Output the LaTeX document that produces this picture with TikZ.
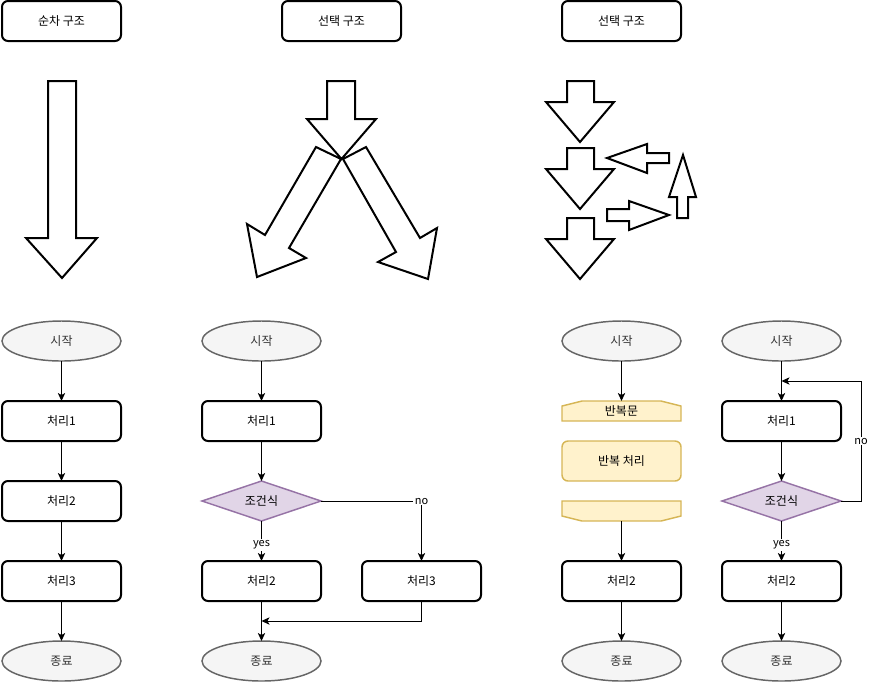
\documentclass[tikz,border=0pt]{standalone}
\usepackage{fontspec}
\setmainfont{Noto Sans CJK KR}
\usepackage{xcolor}
\usetikzlibrary{shapes.geometric,arrows.meta,positioning}

\definecolor{termfill}{HTML}{F5F5F5}
\definecolor{termline}{HTML}{666666}
\definecolor{condfill}{HTML}{E1D5E7}
\definecolor{condline}{HTML}{9673A6}
\definecolor{loopfill}{HTML}{FFF2CC}
\definecolor{loopline}{HTML}{D6B656}

\begin{document}
\begin{tikzpicture}[
    x=0.75pt, y=-0.75pt,
    node distance=30pt,
    font=\fontsize{9pt}{11pt}\selectfont,
    every node/.style={outer sep=0pt},
    box/.style={rectangle, draw, rounded corners=4.5pt, line width=1.5pt, minimum width=89.25pt, minimum height=30pt},
    term/.style={ellipse, draw=termline, fill=termfill, text=black!80, line width=1.1pt, minimum width=89.25pt, minimum height=30pt},
    cond/.style={diamond, draw=condline, fill=condfill, line width=1.1pt, aspect=3, inner sep=0pt, minimum width=89.25pt, minimum height=30pt},
    loopline/.style={draw=loopline, fill=loopfill, line width=1.1pt},
    loopcell/.style={rectangle, inner sep=0pt, minimum width=89.25pt, minimum height=15pt},
    blk/.style={draw, line width=1.5pt, fill=white},
    flow/.style={-{Stealth[length=6pt, width=5.5pt, inset=1.5pt]}, line width=0.75pt},
    lbl/.style={fill=white, inner sep=1pt, font=\fontsize{8.25pt}{10pt}\selectfont}
]
    \useasboundingbox (0,0) rectangle (870,683);

    % titles
    \node[box] (t1) at (61.5,21) {순차 구조};
    \node[box] (t2) at (341.5,21) {선택 구조};
    \node[box] (t3) at (621.5,21) {선택 구조};

    % block arrows
    \draw[blk] (48,81) -- (76,81) -- (76,238) -- (97,238) -- (62,278) -- (26,238) -- (48,238) -- cycle;

    \draw[blk] (316,147) -- (341,159) -- (289,248) -- (306,258) -- (257,277) -- (247,224) -- (265,235) -- cycle;
    \draw[blk] (343,159) -- (366,147) -- (420,238) -- (437,228) -- (428,279) -- (378,262) -- (396,252) -- cycle;
    \draw[blk] (327,81) -- (355,81) -- (355,119) -- (376,119) -- (341.5,159) -- (307,119) -- (327,119) -- cycle;

    \foreach \t in {81,148,218}
        \draw[blk] (567,\t) -- (594,\t) -- (594,\t+21) -- (614,\t+21) -- (580,\t+61) -- (546,\t+21) -- (567,\t+21) -- cycle;
    \draw[blk] (669,153) -- (669,163) -- (647,163) -- (647,173) -- (607,158) -- (647,144) -- (647,153) -- cycle;
    \draw[blk] (607,209) -- (629,209) -- (629,201) -- (669,215) -- (629,230) -- (629,221) -- (607,221) -- cycle;
    \draw[blk] (677,218) -- (688,218) -- (688,197) -- (696,197) -- (683,155) -- (669,197) -- (677,197) -- cycle;

    % sequence
    \node[term] (s1) at (61.5,341) {시작};
    \node[box, below=of s1] (p11) {처리1};
    \node[box, below=of p11] (p21) {처리2};
    \node[box, below=of p21] (p31) {처리3};
    \node[term, below=of p31] (e1) {종료};

    \draw[flow] (s1) -- (p11);
    \draw[flow] (p11) -- (p21);
    \draw[flow] (p21) -- (p31);
    \draw[flow] (p31) -- (e1);

    % selection
    \node[term] (s2) at (261.5,341) {시작};
    \node[box, below=of s2] (p12) {처리1};
    \node[cond, below=of p12] (c2) {조건식};
    \node[box, below=of c2] (p22) {처리2};
    \node[box] (p32) at (421.5,581) {처리3};
    \node[term, below=of p22] (e2) {종료};
    \path (p22) -- coordinate[pos=.5] (m2) (e2);

    \draw[flow] (s2) -- (p12);
    \draw[flow] (p12) -- (c2);
    \draw[flow] (c2) -- node[lbl, pos=.6] {yes} (p22);
    \draw[flow] (c2) -- (c2 -| p32) node[lbl] {no} -- (p32);
    \draw[flow] (p22) -- (e2);
    \draw[flow] (p32) |- (m2);

    % loop (limit)
    \node[term] (s3) at (621.5,341) {시작};
    \draw[loopline] (562,421) -- (562,406) -- (582,401) -- (661,401) -- (681,406) -- (681,421) -- cycle;
    \node[loopcell] (lb3) at (621.5,411) {반복문};
    \node[box, draw=loopline, fill=loopfill, line width=1.1pt] (b3) at (621.5,461) {반복 처리};
    \draw[loopline] (562,501) -- (681,501) -- (681,516) -- (661,521) -- (582,521) -- (562,516) -- cycle;
    \node[loopcell] (le3) at (621.5,511) {};
    \node[box, below=of le3] (p23) {처리2};
    \node[term, below=of p23] (e3) {종료};

    \draw[flow] (s3) -- (lb3);
    \draw[flow] (le3) -- (p23);
    \draw[flow] (p23) -- (e3);

    % loop (condition)
    \node[term] (s4) at (781.5,341) {시작};
    \node[box, below=of s4] (p14) {처리1};
    \node[cond, below=of p14] (c4) {조건식};
    \node[box, below=of c4] (p24) {처리2};
    \node[term, below=of p24] (e4) {종료};
    \path (s4) -- coordinate[pos=.5] (j4) (p14);

    \draw[flow] (s4) -- (p14);
    \draw[flow] (p14) -- (c4);
    \draw[flow] (c4) -- node[lbl, pos=.6] {yes} (p24);
    \draw[flow] (c4.east) -- ++(20,0) |- node[lbl, pos=.25] {no} (j4);
    \draw[flow] (p24) -- (e4);
\end{tikzpicture}
\end{document}
